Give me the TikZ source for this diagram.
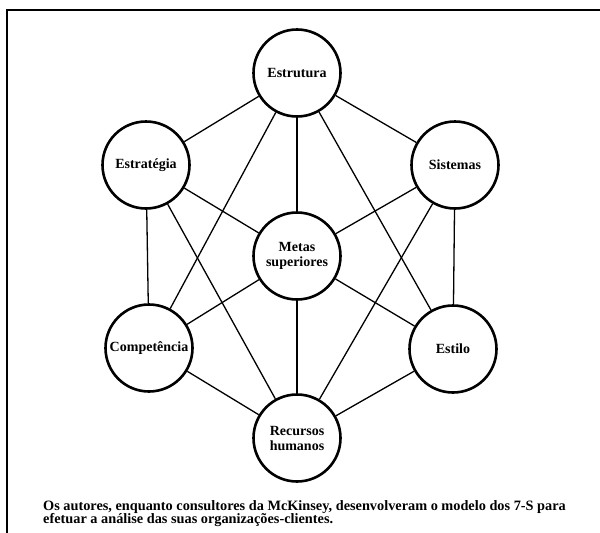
\documentclass[tikz,border=0pt]{standalone}
\usepackage{fontspec}
\setmainfont{Liberation Serif}
\begin{document}
\begin{tikzpicture}[x=1pt, y=-1pt, every node/.style={fill=white}, s/.style={circle, draw, line width=2.6pt, minimum size=87pt, inner sep=0pt, align=center, font=\fontsize{14}{15}\selectfont\bfseries}, con/.style={line width=1.3pt}]
        \useasboundingbox (0,0) rectangle (600,533);
        \draw[line width=1.8pt] (7,533) -- (7,10) -- (600,10);

        \node[s] (estrutura) at (297, 73) {Estrutura};
        \node[s] (estrategia) at (146, 165) {Estratégia};
        \node[s] (sistemas) at (455, 165) {Sistemas};
        \node[s] (metas) at (297, 256) {Metas\\superiores};
        \node[s] (competencia) at (149, 348) {Competência};
        \node[s] (estilo) at (453, 349) {Estilo};
        \node[s] (recursos) at (297, 438) {Recursos\\humanos};

        \draw[con] (estrutura) edge (estrategia);
        \draw[con] (estrutura) edge (sistemas);
        \draw[con] (estrategia) edge (competencia);
        \draw[con] (sistemas) edge (estilo);
        \draw[con] (competencia) edge (recursos);
        \draw[con] (estilo) edge (recursos);
        \draw[con] (metas) edge (estrutura);
        \draw[con] (metas) edge (estrategia);
        \draw[con] (metas) edge (sistemas);
        \draw[con] (metas) edge (competencia);
        \draw[con] (metas) edge (estilo);
        \draw[con] (metas) edge (recursos);
        \draw[con] (estrutura) edge (competencia);
        \draw[con] (estrutura) edge (estilo);
        \draw[con] (estrategia) edge (recursos);
        \draw[con] (sistemas) edge (recursos);

        \node[anchor=north west, align=left, inner sep=0pt, font=\fontsize{14.3}{13.5}\selectfont\bfseries] (legenda) at (43, 500) {Os autores, enquanto consultores da McKinsey, desenvolveram o modelo dos 7-S para\\efetuar a análise das suas organizações-clientes.};
    \end{tikzpicture}
\end{document}
